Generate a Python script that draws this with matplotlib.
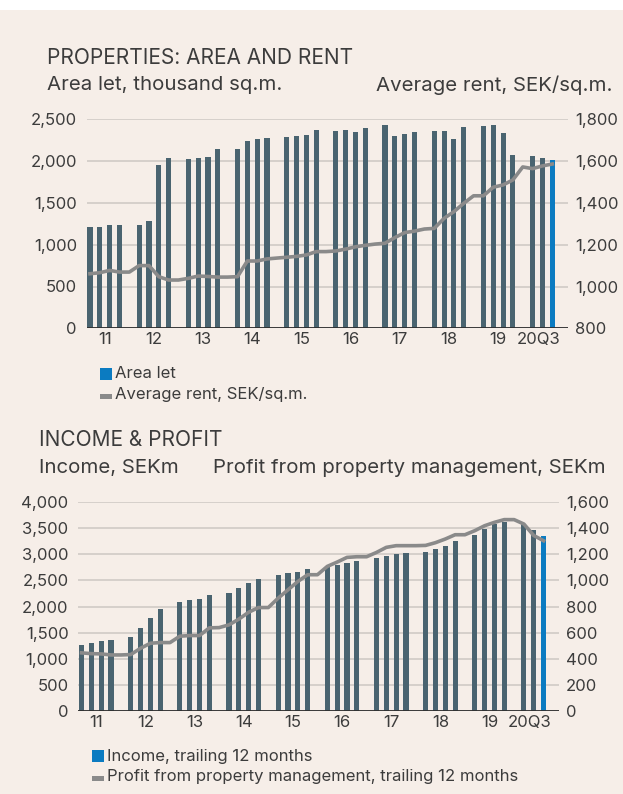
import matplotlib.pyplot as plt
import numpy as np
from matplotlib.patches import Rectangle

# years on the x axis, four quarters per year (2020 only up to Q3)
years = ['11', '12', '13', '14', '15', '16', '17', '18', '19', '20Q3']
quarters = [4, 4, 4, 4, 4, 4, 4, 4, 4, 3]

# area let, thousand sq.m. (one per quarter)
area_let = [1210, 1210, 1235, 1235,
            1235, 1283, 1952, 2037,
            2025, 2037, 2049, 2145,
            2145, 2240, 2264, 2276,
            2288, 2300, 2312, 2372,
            2360, 2372, 2348, 2396,
            2432, 2300, 2324, 2348,
            2360, 2360, 2264, 2408,
            2420, 2432, 2336, 2073,
            2061, 2037, 2013]

# average rent, SEK/sq.m. (per quarter plus a year-end point in the gap)
avg_rent = [1061, 1066, 1077, 1069, 1069,
            1100, 1100, 1047, 1031, 1031,
            1039, 1050, 1048, 1045, 1045,
            1047, 1122, 1122, 1132, 1136,
            1140, 1144, 1151, 1167, 1167,
            1170, 1179, 1190, 1197, 1203,
            1207, 1234, 1258, 1265, 1275,
            1278, 1326, 1358, 1398, 1434,
            1434, 1475, 1486, 1510, 1572,
            1564, 1577, 1586]

# income, trailing 12 months, SEKm
income = [1263, 1301, 1340, 1359,
          1417, 1590, 1788, 1955,
          2090, 2128, 2147, 2224,
          2263, 2359, 2455, 2532,
          2609, 2647, 2667, 2724,
          2750, 2801, 2840, 2878,
          2936, 2974, 3013, 3032,
          3051, 3109, 3167, 3263,
          3378, 3493, 3590, 3628,
          3590, 3474, 3359]

# profit from property management, trailing 12 months, SEKm
profit = [444, 438, 436, 428, 428,
          431, 479, 518, 523, 523,
          572, 577, 577, 636, 638,
          659, 703, 756, 792, 792,
          864, 928, 992, 1044, 1044,
          1108, 1141, 1177, 1182, 1182,
          1215, 1254, 1267, 1267, 1267,
          1269, 1290, 1318, 1351, 1351,
          1382, 1420, 1446, 1467, 1467,
          1433, 1345, 1305]

BG = '#f6eee8'
BAR = '#4a6470'
BLUE = '#0b7bc1'
LINE = '#8a8a8a'
TXT = '#3c3c3c'
GRID = '#cdc8c3'

plt.rcParams['font.family'] = ['Inter', 'DejaVu Sans']

# slot positions: 5 slots per year, 4 quarters + 1 empty gap
bar_x = []
for i, n in enumerate(quarters):
    for q in range(n):
        bar_x.append(5 * i + q)
bar_x = np.array(bar_x)
year_x = [5 * i + (n - 1) / 2 for i, n in enumerate(quarters)]
year_x[-1] = 45.6

W, H = 623, 794
fig = plt.figure(figsize=(W / 100, H / 100), dpi=100)
fig.patch.set_facecolor(BG)
fig.patches.append(Rectangle((0, 1 - 10 / H), 1, 10 / H, transform=fig.transFigure,
                             facecolor='white', edgecolor='none'))


def px_axes(x0, y0, x1, y1):
    return fig.add_axes([x0 / W, 1 - y1 / H, (x1 - x0) / W, (y1 - y0) / H])


def style_axes(ax, ax2, left_max, left_step, right_min, right_max, right_step):
    colors = [BAR] * (len(bar_x) - 1) + [BLUE]
    ax.set_xlim(-0.33, 48.6)
    ax.set_ylim(0, left_max)
    ax.set_yticks(np.arange(0, left_max + 1, left_step))
    ax.set_yticklabels([f'{v:,}' for v in np.arange(0, left_max + 1, left_step)])
    ax2.set_ylim(right_min, right_max)
    ax2.set_yticks(np.arange(right_min, right_max + 1, right_step))
    ax2.set_yticklabels([f'{v:,}' for v in np.arange(right_min, right_max + 1, right_step)])
    ax.set_xticks(year_x)
    ax.set_xticklabels(years)
    for a in (ax, ax2):
        a.set_facecolor('none')
        for s in a.spines.values():
            s.set_visible(False)
        a.tick_params(length=0, labelsize=12, labelcolor=TXT)
    ax.tick_params(axis='y', pad=7)
    ax2.tick_params(axis='y', pad=5)
    ax.tick_params(axis='x', pad=3)
    ax.grid(axis='y', color=GRID, linewidth=1.1)
    ax.set_axisbelow(True)
    ax.axhline(0, color='#2e2e2e', linewidth=1.3, zorder=3)
    return colors


def legend(x, y, label1, label2):
    fig.patches.append(Rectangle((x / W, 1 - (y + 6) / H), 12 / W, 12 / H,
                                 transform=fig.transFigure, facecolor=BLUE, edgecolor='none'))
    fig.text((x + 15) / W, 1 - y / H, label1, fontsize=12, color=TXT, va='center')
    fig.patches.append(Rectangle((x / W, 1 - (y + 25) / H), 12 / W, 5 / H,
                                 transform=fig.transFigure, facecolor=LINE, edgecolor='none'))
    fig.text((x + 15) / W, 1 - (y + 20) / H, label2, fontsize=12, color=TXT, va='center')


# ---- top chart: area and rent ----
ax = px_axes(86.7, 119.3, 568, 328.3)
ax2 = ax.twinx()
colors = style_axes(ax, ax2, 2500, 500, 800, 1800, 200)
ax.bar(bar_x, area_let, width=0.52, color=colors, zorder=2)
ax2.plot(np.arange(len(avg_rent)), avg_rent, color=LINE, linewidth=2.6,
         solid_joinstyle='round', zorder=4)

fig.text(47 / W, 1 - 58 / H, 'PROPERTIES: AREA AND RENT', fontsize=15, color=TXT, va='center')
fig.text(47 / W, 1 - 85 / H, 'Area let, thousand sq.m.', fontsize=14.7, color=TXT, va='center')
fig.text(613 / W, 1 - 85 / H, 'Average rent, SEK/sq.m.', fontsize=14.7, color=TXT,
         va='center', ha='right')
legend(100, 374, 'Area let', 'Average rent, SEK/sq.m.')

# ---- bottom chart: income and profit ----
bx = px_axes(78.3, 502.3, 559.3, 710.7)
bx2 = bx.twinx()
colors = style_axes(bx, bx2, 4000, 500, 0, 1600, 200)
bx.bar(bar_x, income, width=0.52, color=colors, zorder=2)
bx2.plot(np.arange(len(profit)), profit, color=LINE, linewidth=2.6,
         solid_joinstyle='round', zorder=4)

fig.text(39 / W, 1 - 440 / H, 'INCOME & PROFIT', fontsize=15, color=TXT, va='center')
fig.text(39 / W, 1 - 468 / H, 'Income, SEKm', fontsize=14.7, color=TXT, va='center')
fig.text(213 / W, 1 - 468 / H, 'Profit from property management, SEKm', fontsize=14.7,
         color=TXT, va='center')
legend(92, 756, 'Income, trailing 12 months',
       'Profit from property management, trailing 12 months')

fig.savefig('out.png', dpi=100, facecolor=fig.get_facecolor())
